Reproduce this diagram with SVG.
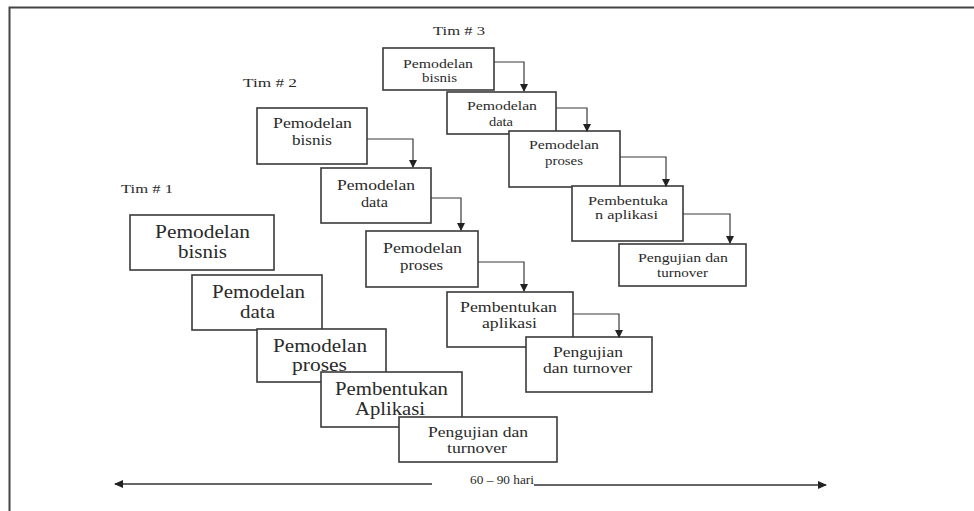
<svg xmlns="http://www.w3.org/2000/svg" width="974" height="511" viewBox="0 0 974 511">
  <style>
    .box { fill: #ffffff; stroke: #3a3a3a; stroke-width: 1.6; }
    text { font-family: "Liberation Serif", "DejaVu Serif", "Times New Roman", serif; fill: #2a2a2a; }
    .big { font-size: 19px; }
    .mid { font-size: 15px; }
    .sm { font-size: 13px; }
    .lbl { font-size: 13px; }
    .wire { fill: none; stroke: #3a3a3a; stroke-width: 1.2; }
    .axis { fill: none; stroke: #333333; stroke-width: 1.4; }
  </style>
  <defs>
    <marker id="tri" markerUnits="userSpaceOnUse" markerWidth="8" markerHeight="8" refX="7" refY="4" orient="auto">
      <path d="M0,0 L8,4 L0,8 Z" fill="#222"/>
    </marker>
    <marker id="tipAxis" markerUnits="userSpaceOnUse" markerWidth="9" markerHeight="8" refX="8" refY="4" orient="auto">
      <path d="M0,0 L9,4 L0,8 Z" fill="#222"/>
    </marker>
  </defs>

  <rect width="974" height="511" fill="#ffffff"/>
  <!-- outer frame -->
  <path d="M9.5,511 V7.5 H974" fill="none" stroke="#444" stroke-width="2"/>

  <!-- team labels -->
  <text class="lbl" x="121" y="193" textLength="52" lengthAdjust="spacingAndGlyphs">Tim # 1</text>
  <text class="lbl" x="243" y="87" textLength="54" lengthAdjust="spacingAndGlyphs">Tim # 2</text>
  <text class="lbl" x="433" y="35" textLength="52" lengthAdjust="spacingAndGlyphs">Tim # 3</text>

  <!-- Team 1 -->
  <g id="t1-bisnis">
    <rect class="box" x="130" y="215" width="144" height="55"/>
    <text class="big" x="155" y="238" textLength="95" lengthAdjust="spacingAndGlyphs">Pemodelan</text>
    <text class="big" x="178" y="258" textLength="49" lengthAdjust="spacingAndGlyphs">bisnis</text>
  </g>
  <g id="t1-data">
    <rect class="box" x="192" y="275" width="130" height="55"/>
    <text class="big" x="212" y="298" textLength="93" lengthAdjust="spacingAndGlyphs">Pemodelan</text>
    <text class="big" x="240" y="318" textLength="35" lengthAdjust="spacingAndGlyphs">data</text>
  </g>
  <g id="t1-proses">
    <rect class="box" x="257" y="329" width="129" height="53"/>
    <text class="big" x="273" y="352" textLength="94" lengthAdjust="spacingAndGlyphs">Pemodelan</text>
    <text class="big" x="292" y="371" textLength="55" lengthAdjust="spacingAndGlyphs">proses</text>
  </g>
  <g id="t1-aplikasi">
    <rect class="box" x="321" y="372" width="141" height="55"/>
    <text class="big" x="335" y="395" textLength="113" lengthAdjust="spacingAndGlyphs">Pembentukan</text>
    <text class="big" x="355" y="415" textLength="70" lengthAdjust="spacingAndGlyphs">Aplikasi</text>
  </g>
  <g id="t1-pengujian">
    <rect class="box" x="399" y="417" width="158" height="45"/>
    <text class="mid" x="428" y="437" textLength="100" lengthAdjust="spacingAndGlyphs">Pengujian dan</text>
    <text class="mid" x="447" y="453" textLength="60" lengthAdjust="spacingAndGlyphs">turnover</text>
  </g>

  <!-- Team 2 -->
  <g id="t2-bisnis">
    <rect class="box" x="257" y="108" width="110" height="56"/>
    <text class="mid" x="273" y="128" textLength="79" lengthAdjust="spacingAndGlyphs">Pemodelan</text>
    <text class="mid" x="292" y="145" textLength="40" lengthAdjust="spacingAndGlyphs">bisnis</text>
  </g>
  <g id="t2-data">
    <rect class="box" x="321" y="168" width="110" height="55"/>
    <text class="mid" x="337" y="190" textLength="78" lengthAdjust="spacingAndGlyphs">Pemodelan</text>
    <text class="mid" x="361" y="207" textLength="27" lengthAdjust="spacingAndGlyphs">data</text>
  </g>
  <g id="t2-proses">
    <rect class="box" x="366" y="231" width="112" height="56"/>
    <text class="mid" x="383" y="253" textLength="79" lengthAdjust="spacingAndGlyphs">Pemodelan</text>
    <text class="mid" x="400" y="270" textLength="43" lengthAdjust="spacingAndGlyphs">proses</text>
  </g>
  <g id="t2-aplikasi">
    <rect class="box" x="447" y="292" width="126" height="55"/>
    <text class="mid" x="460" y="312" textLength="97" lengthAdjust="spacingAndGlyphs">Pembentukan</text>
    <text class="mid" x="482" y="328" textLength="55" lengthAdjust="spacingAndGlyphs">aplikasi</text>
  </g>
  <g id="t2-pengujian">
    <rect class="box" x="526" y="337" width="126" height="55"/>
    <text class="mid" x="553" y="357" textLength="70" lengthAdjust="spacingAndGlyphs">Pengujian</text>
    <text class="mid" x="543" y="373" textLength="89" lengthAdjust="spacingAndGlyphs">dan turnover</text>
  </g>

  <!-- Team 3 -->
  <g id="t3-bisnis">
    <rect class="box" x="383" y="48" width="111" height="42"/>
    <text class="sm" x="403" y="68" textLength="70" lengthAdjust="spacingAndGlyphs">Pemodelan</text>
    <text class="sm" x="422" y="82" textLength="35" lengthAdjust="spacingAndGlyphs">bisnis</text>
  </g>
  <g id="t3-data">
    <rect class="box" x="447" y="92" width="109" height="42"/>
    <text class="sm" x="467" y="110" textLength="70" lengthAdjust="spacingAndGlyphs">Pemodelan</text>
    <text class="sm" x="489" y="126" textLength="24" lengthAdjust="spacingAndGlyphs">data</text>
  </g>
  <g id="t3-proses">
    <rect class="box" x="509" y="131" width="111" height="56"/>
    <text class="sm" x="529" y="149" textLength="70" lengthAdjust="spacingAndGlyphs">Pemodelan</text>
    <text class="sm" x="545" y="165" textLength="38" lengthAdjust="spacingAndGlyphs">proses</text>
  </g>
  <g id="t3-aplikasi">
    <rect class="box" x="572" y="186" width="111" height="55"/>
    <text class="sm" x="588" y="205" textLength="80" lengthAdjust="spacingAndGlyphs">Pembentuka</text>
    <text class="sm" x="595" y="219" textLength="63" lengthAdjust="spacingAndGlyphs">n aplikasi</text>
  </g>
  <g id="t3-pengujian">
    <rect class="box" x="619" y="244" width="127" height="42"/>
    <text class="sm" x="638" y="262" textLength="90" lengthAdjust="spacingAndGlyphs">Pengujian dan</text>
    <text class="sm" x="657" y="277" textLength="51" lengthAdjust="spacingAndGlyphs">turnover</text>
  </g>

  <!-- connectors -->
  <g id="connectors">
    <path class="wire" d="M367,139 H413 V167" marker-end="url(#tri)"/>
    <path class="wire" d="M431,198 H461 V230" marker-end="url(#tri)"/>
    <path class="wire" d="M478,262 H524 V291" marker-end="url(#tri)"/>
    <path class="wire" d="M573,314 H619 V337" marker-end="url(#tri)"/>
    <path class="wire" d="M494,62 H524 V91" marker-end="url(#tri)"/>
    <path class="wire" d="M556,108 H587 V131" marker-end="url(#tri)"/>
    <path class="wire" d="M620,157 H666 V186" marker-end="url(#tri)"/>
    <path class="wire" d="M683,214 H730 V243" marker-end="url(#tri)"/>
  </g>

  <!-- time axis -->
  <g id="timeline">
    <path class="axis" d="M432,484 H115" marker-end="url(#tipAxis)"/>
    <text class="lbl" x="470" y="484" textLength="64" lengthAdjust="spacingAndGlyphs">60 – 90 hari</text>
    <path class="axis" d="M534,485 H826" marker-end="url(#tipAxis)"/>
  </g>
</svg>
